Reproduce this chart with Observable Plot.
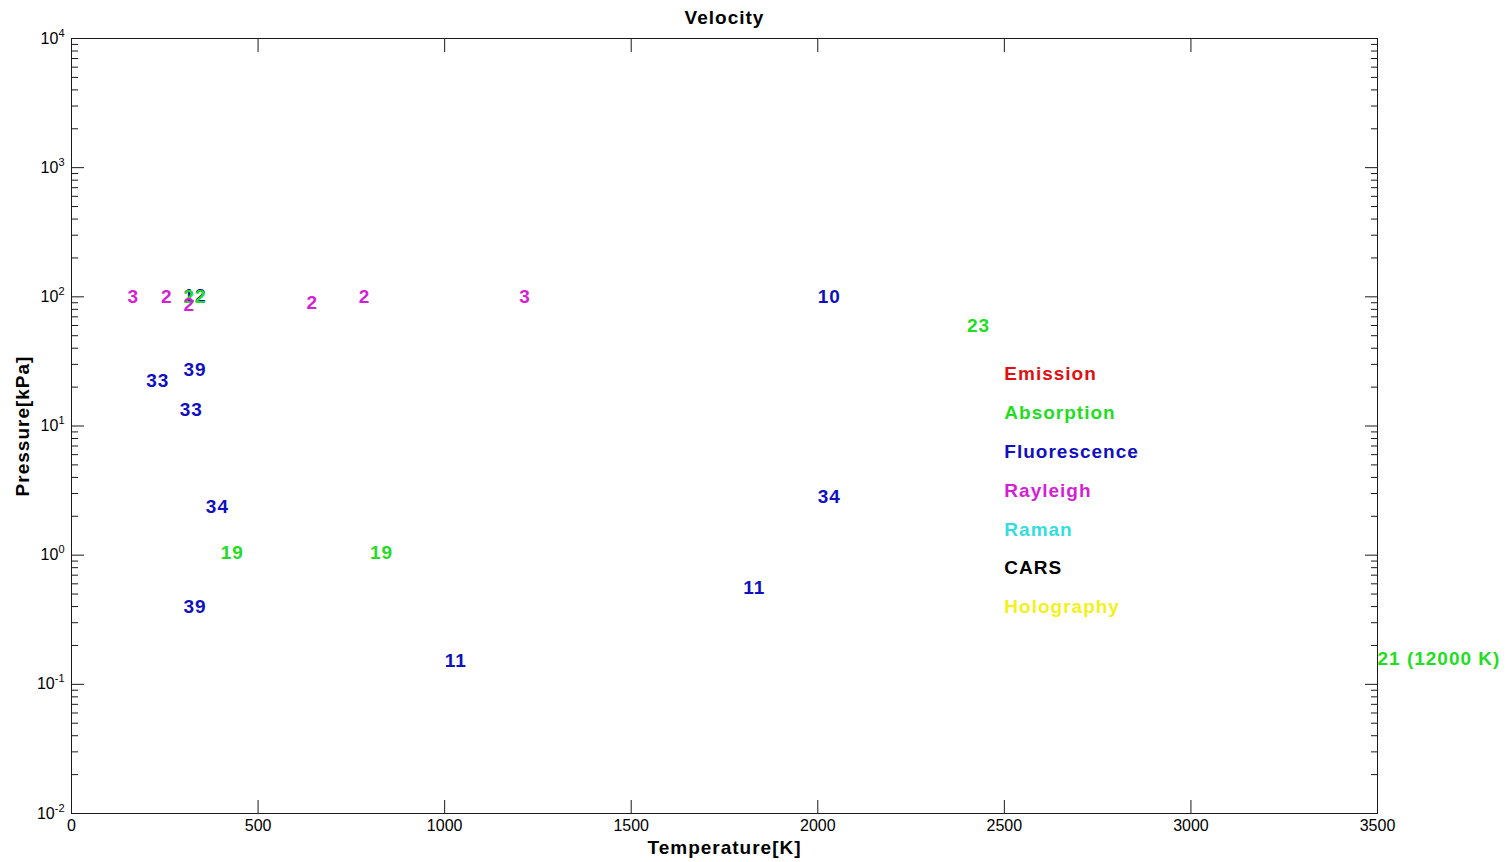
<!DOCTYPE html>
<html><head><meta charset="utf-8">
<script src="https://cdn.jsdelivr.net/npm/d3@7"></script>
<script src="https://cdn.jsdelivr.net/npm/@observablehq/plot@0.6"></script>
<style>
body{margin:0;background:#fff;}
#chart svg{display:block;}
</style></head><body><div id="chart"></div>
<script>
// Fluorescence (blue)
const fluoT = [300, 2000, 200, 300, 290, 360, 300, 1000, 1800, 2000];
const fluoP = [101, 100, 22.5, 27.4, 13.4, 2.38, 0.4, 0.153, 0.56, 2.85];
const fluoLabel = ["12", "10", "33", "39", "33", "34", "39", "11", "11", "34"];
// Absorption (green)
const absT = [300, 2400, 400, 800, 3500];
const absP = [100, 60, 1.05, 1.05, 0.157];
const absLabel = ["22", "23", "19", "19", "21 (12000 K)"];
// Rayleigh (magenta)
const rayT = [150, 240, 300, 630, 770, 1200];
const rayP = [100, 99, 86, 90, 100, 100];
const rayLabel = ["3", "2", "2", "2", "2", "3"];
// Legend (technique names and colours)
const techniques = ["Emission", "Absorption", "Fluorescence", "Rayleigh", "Raman", "CARS", "Holography"];
const techColors = ["#dd1111", "#22dd22", "#1010c0", "#d41fd4", "#33dede", "#000000", "#f2f21a"];
const legendT = 2500;
const legendP = [25.5, 12.7, 6.3, 3.17, 1.58, 0.8, 0.4];
// Axes
const xTicks = [0, 500, 1000, 1500, 2000, 2500, 3000, 3500];
const yMajor = [0.01, 0.1, 1, 10, 100, 1000, 10000];
const yMinor = [];
for (const d of yMajor.slice(0, -1)) for (let m = 2; m <= 9; m++) yMinor.push(d * m);

const colorOf = Object.fromEntries(techniques.map((t, i) => [t, techColors[i]]));
const fluo = fluoT.map((t, i) => ({T: t, P: fluoP[i], label: fluoLabel[i]}));
const abs = absT.map((t, i) => ({T: t, P: absP[i], label: absLabel[i]}));
const ray = rayT.map((t, i) => ({T: t, P: rayP[i], label: rayLabel[i]}));
const legend = techniques.map((t, i) => ({T: legendT, P: legendP[i], label: t, color: techColors[i]}));

const txt = {x: "T", y: "P", text: "label", textAnchor: "start", fontWeight: "bold", fontSize: 19};
const ink = "#1a1a1a";

const plot = Plot.plot({
  width: 1510, height: 862,
  marginLeft: 71, marginRight: 133, marginTop: 38, marginBottom: 49,
  style: {fontFamily: "'Liberation Sans', Arial, sans-serif", fontSize: "16px", background: "#fff", color: "#000"},
  x: {domain: [0, 3500]},
  y: {type: "log", domain: [0.01, 10000]},
  marks: [
    Plot.axisX({ticks: xTicks, tickSize: 0, tickPadding: 6, tickFormat: d => String(d), label: null}),
    Plot.axisX({ticks: xTicks, tickSize: -13, tickFormat: () => "", label: null, stroke: ink}),
    Plot.axisX({anchor: "top", ticks: xTicks, tickSize: -13, tickFormat: () => "", label: null, stroke: ink}),
    Plot.axisY({ticks: yMajor, tickSize: 0, tickPadding: 7, tickFormat: d => "10^" + Math.round(Math.log10(d)), label: null}),
    Plot.axisY({ticks: yMajor, tickSize: -13, tickFormat: () => "", label: null, stroke: ink}),
    Plot.axisY({ticks: yMinor, tickSize: -7, tickFormat: () => "", label: null, stroke: ink}),
    Plot.axisY({anchor: "right", ticks: yMajor, tickSize: -13, tickFormat: () => "", label: null, stroke: ink}),
    Plot.axisY({anchor: "right", ticks: yMinor, tickSize: -7, tickFormat: () => "", label: null, stroke: ink}),
    Plot.frame({stroke: ink}),
    Plot.text(fluo, {...txt, fill: colorOf["Fluorescence"]}),
    Plot.text(abs, {...txt, fill: colorOf["Absorption"]}),
    Plot.text(ray, {...txt, fill: colorOf["Rayleigh"]}),
    Plot.text(legend, {...txt, fill: "color"}),
    Plot.text(["Velocity"], {frameAnchor: "top", lineAnchor: "middle", dy: -21, fontWeight: "bold", fontSize: 19}),
    Plot.text(["Temperature[K]"], {frameAnchor: "bottom", lineAnchor: "middle", dy: 34, fontWeight: "bold", fontSize: 19}),
    Plot.text(["Pressure[kPa]"], {frameAnchor: "left", textAnchor: "middle", lineAnchor: "middle", dx: -49, rotate: -90, fontWeight: "bold", fontSize: 19})
  ]
});
plot.style.overflow = "visible";
d3.select(plot).selectAll("text").each(function() {
  const s = this.textContent;
  const m = /^10\^(-?\d+)$/.exec(s);
  if (m) {
    const t = d3.select(this);
    t.text("");
    t.append("tspan").text("10");
    t.append("tspan").attr("font-size", 11).attr("dy", -7).text(m[1]);
  } else if (this.getAttribute("font-weight") === "bold" || (this.parentNode && this.parentNode.getAttribute("font-weight") === "bold")) {
    this.style.letterSpacing = "1px";
  }
});
document.getElementById("chart").appendChild(plot);
</script></body></html>
